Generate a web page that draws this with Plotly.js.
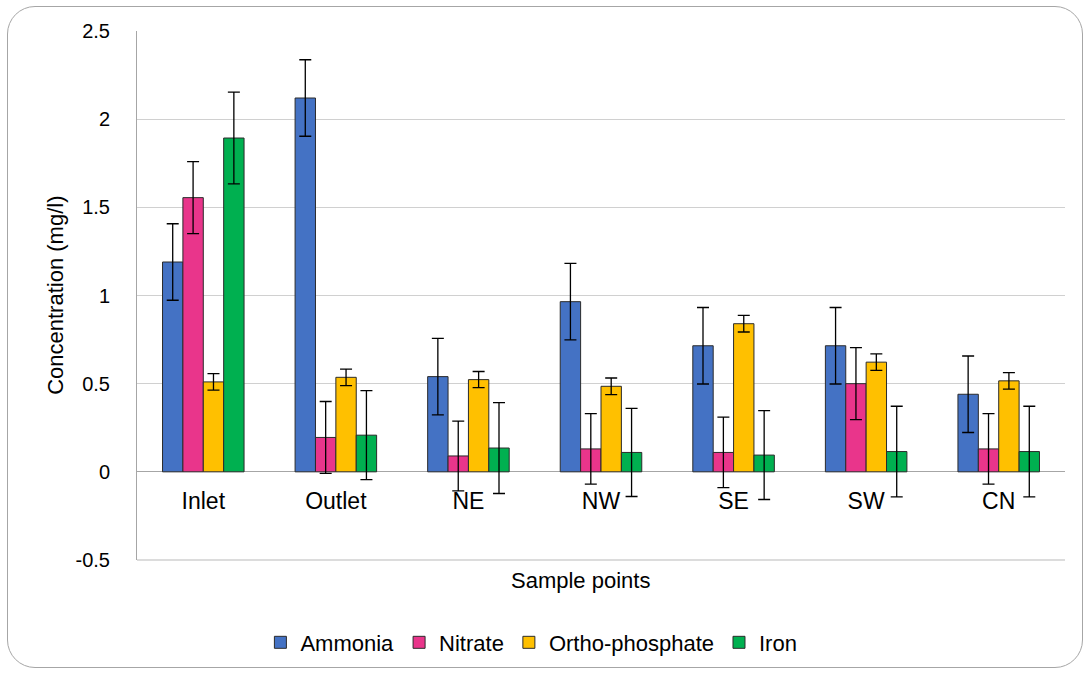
<!DOCTYPE html>
<html>
<head>
<meta charset="utf-8">
<script src="https://cdn.plot.ly/plotly-3.0.1.min.js"></script>
<style>
  html, body { margin:0; padding:0; background:#fff; }
  #wrap { position:relative; width:1089px; height:673px; }
  #chart { position:absolute; left:0; top:0; width:1089px; height:673px; }
  #frame { position:absolute; left:7px; top:6px; width:1074px; height:660px;
           border:1.5px solid #a6a6a6; border-radius:28px; pointer-events:none; }
</style>
</head>
<body>
<div id="wrap">
  <div id="chart"></div>
  <div id="frame"></div>
</div>
<script>
const categories = ["Inlet", "Outlet", "NE", "NW", "SE", "SW", "CN"];

const ammonia      = [1.19, 2.12, 0.54, 0.965, 0.715, 0.715, 0.44];
const ammoniaErr   = [0.217, 0.217, 0.217, 0.217, 0.217, 0.217, 0.217];
const nitrate      = [1.555, 0.195, 0.09, 0.13, 0.11, 0.50, 0.13];
const nitrateErr   = [0.204, 0.204, 0.198, 0.2, 0.2, 0.204, 0.2];
const ortho        = [0.51, 0.536, 0.523, 0.485, 0.84, 0.622, 0.516];
const orthoErr     = [0.047, 0.047, 0.046, 0.047, 0.047, 0.047, 0.047];
const iron         = [1.893, 0.208, 0.135, 0.11, 0.095, 0.115, 0.115];
const ironErr      = [0.26, 0.252, 0.258, 0.25, 0.252, 0.257, 0.257];

const seriesNames  = ["Ammonia", "Nitrate", "Ortho-phosphate", "Iron"];
const seriesColors = ["#4472C4", "#E9358B", "#FFC000", "#00B050"];
const seriesValues = [ammonia, nitrate, ortho, iron];
const seriesErrors = [ammoniaErr, nitrateErr, orthoErr, ironErr];

const yTicks = [-0.5, 0, 0.5, 1, 1.5, 2, 2.5];
const yTickText = ["-0.5", "0", "0.5", "1", "1.5", "2", "2.5"];

const font = "Liberation Sans, Arial, sans-serif";

const traces = seriesNames.map((name, i) => ({
  type: "bar",
  name: name,
  x: categories,
  y: seriesValues[i],
  marker: { color: seriesColors[i], line: { color: "#2b2b2b", width: 1 } },
  error_y: { type: "data", array: seriesErrors[i], visible: true,
             color: "#000", thickness: 1.3, width: 6 }
}));

const layout = {
  width: 1089, height: 673,
  margin: { l: 137, r: 24, t: 31, b: 113, autoexpand: false },
  paper_bgcolor: "#fff", plot_bgcolor: "#fff",
  font: { family: font, size: 22, color: "#000" },
  barmode: "group",
  bargap: 0.385,
  bargroupgap: 0,
  showlegend: true,
  legend: {
    orientation: "h", x: 0.425, xanchor: "center", y: -0.156, yanchor: "middle",
    font: { family: font, size: 22, color: "#000" },
    itemwidth: 30, tracegroupgap: 0, itemclick: false
  },
  xaxis: {
    anchor: "free", position: 1/6, automargin: false,
    showline: false, showgrid: false, zeroline: false,
    ticks: "", ticklen: 0, ticklabelstandoff: 13,
    tickfont: { family: font, size: 23, color: "#000" },
    fixedrange: true
  },
  yaxis: {
    range: [-0.5, 2.5], automargin: false,
    tickvals: yTicks, ticktext: yTickText,
    showline: true, linecolor: "#a6a6a6", linewidth: 1,
    showgrid: true, gridcolor: "#d0d0d0", gridwidth: 1.3,
    zeroline: true, zerolinecolor: "#a6a6a6", zerolinewidth: 1.3,
    ticks: "", ticklabelstandoff: 22,
    tickfont: { family: font, size: 20, color: "#000" },
    fixedrange: true
  },
  annotations: [
    { text: "Concentration (mg/l)", xref: "paper", yref: "paper",
      x: -0.088, y: 0.5, xanchor: "center", yanchor: "middle", textangle: -90,
      showarrow: false, font: { family: font, size: 22, color: "#000" } },
    { text: "Sample points", xref: "paper", yref: "paper",
      x: 0.478, y: -0.039, xanchor: "center", yanchor: "middle",
      showarrow: false, font: { family: font, size: 22, color: "#000" } }
  ],
  shapes: [
    { type: "line", xref: "paper", yref: "paper", x0: 0, x1: 1, y0: 0, y1: 0,
      line: { color: "#d0d0d0", width: 1.3 } }
  ]
};

Plotly.newPlot("chart", traces, layout, { displayModeBar: false, staticPlot: true });
</script>
</body>
</html>
